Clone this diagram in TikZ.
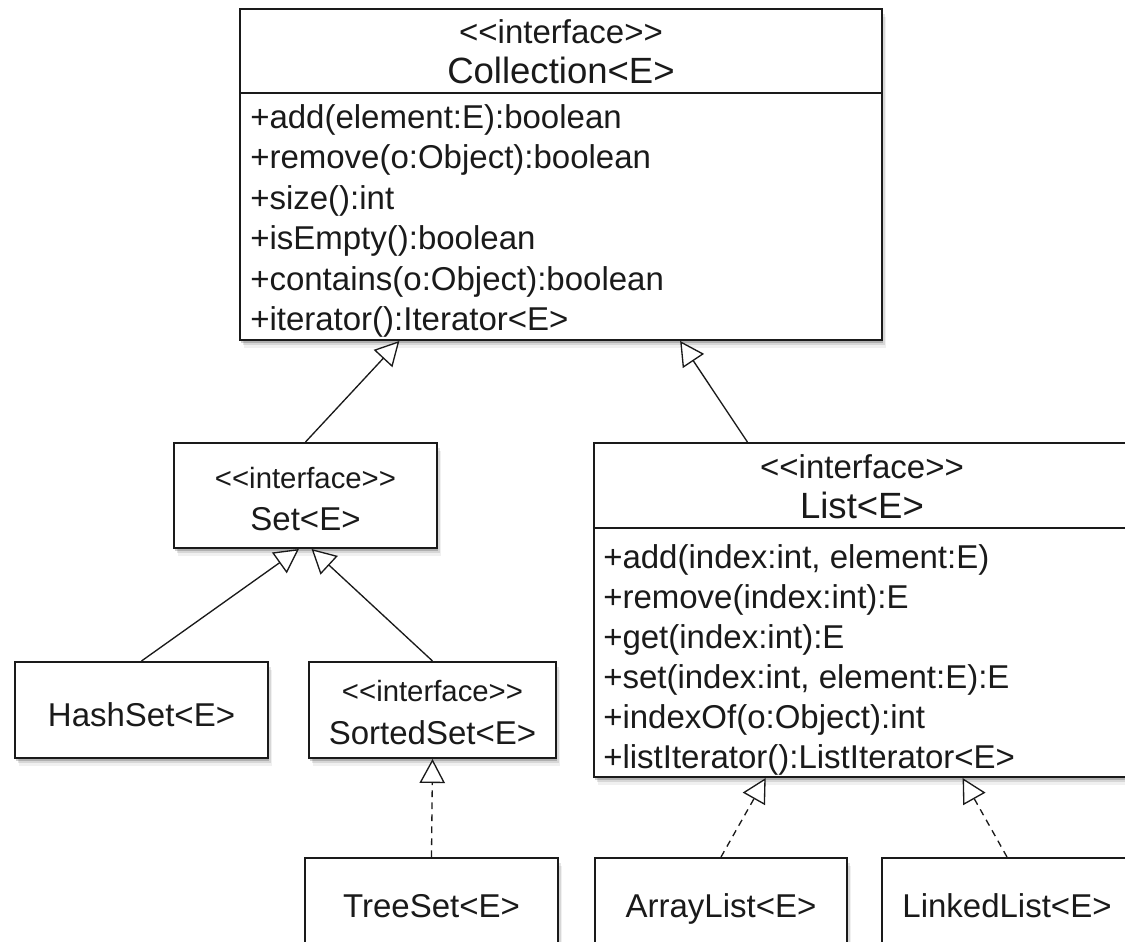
\documentclass[tikz,border=0pt]{standalone}
\usepackage{fontspec}
\setmainfont{Liberation Sans}
\usetikzlibrary{arrows.meta,shadows,fit,calc}
\definecolor{ink}{HTML}{1A1A1A}
\newcommand\stereotxt[1]{<\kern0pt<#1>\kern0pt>}
\begin{document}
\begin{tikzpicture}[x=0.75pt,y=-0.75pt,
  umlbox/.style={draw=ink, line width=1.5pt, fill=white, inner sep=0pt,
    drop shadow={shadow xshift=1pt, shadow yshift=-2pt, opacity=0.18, fill=black},
    drop shadow={shadow xshift=2pt, shadow yshift=-4pt, opacity=0.10, fill=black},
    drop shadow={shadow xshift=3pt, shadow yshift=-6pt, opacity=0.06, fill=black}},
  divider/.style={draw=ink, line width=1.2pt},
  bigstereo/.style={font=\fontsize{24.75}{29}\selectfont, text=ink, inner sep=0pt, anchor=base},
  bigtitle/.style={font=\fontsize{27.4}{32}\selectfont, text=ink, inner sep=0pt, anchor=base},
  member/.style={font=\fontsize{24.75}{29}\selectfont, text=ink, inner sep=0pt, anchor=base west},
  smallstereo/.style={font=\fontsize{22}{26}\selectfont, text=ink, inner sep=0pt, anchor=base},
  classname/.style={font=\fontsize{24.75}{29}\selectfont, text=ink, inner sep=0pt, anchor=base},
  inh/.style={draw=ink, line width=1pt, -{Triangle[open, fill=white, length=18pt, width=19pt, line width=1pt]}},
  impl/.style={inh, dash pattern=on 5pt off 4pt}
]
\path[use as bounding box] (0,0) rectangle (1125,942);
\clip (0,0) rectangle (1125,942);
\fill[white] (0,0) rectangle (1125,942);

% ---------- Collection ----------
\node[umlbox, fit={(240,9) (882,340)}] (coll) {};
\draw[divider] (240,93) -- (882,93);
\node[bigstereo] (collst) at (561,44) {\stereotxt{interface}};
\node[bigtitle] (collname) at (561,84) {Collection<E>};
\node[member] (cm1) at (250,128) {+add(element:E):boolean};
\node[member] (cm2) at (250,168.5) {+remove(o:Object):boolean};
\node[member] (cm3) at (250,209) {+size():int};
\node[member] (cm4) at (250,249.5) {+isEmpty():boolean};
\node[member] (cm5) at (250,290) {+contains(o:Object):boolean};
\node[member] (cm6) at (250,330.5) {+iterator():Iterator<E>};

% ---------- Set ----------
\node[umlbox, fit={(174,443) (437,548)}] (set) {};
\node[smallstereo] (setst) at (305.5,488) {\stereotxt{interface}};
\node[classname] (setname) at (305.5,530) {Set<E>};

% ---------- List ----------
\node[umlbox, fit={(594,443) (1130,777)}] (list) {};
\draw[divider] (594,528) -- (1130,528);
\node[bigstereo] (listst) at (862,478) {\stereotxt{interface}};
\node[bigtitle] (listname) at (862,518) {List<E>};
\node[member] (lm1) at (603,568) {+add(index:int, element:E)};
\node[member] (lm2) at (603,608) {+remove(index:int):E};
\node[member] (lm3) at (603,648) {+get(index:int):E};
\node[member] (lm4) at (603,688) {+set(index:int, element:E):E};
\node[member] (lm5) at (603,728) {+indexOf(o:Object):int};
\node[member] (lm6) at (603,768) {+listIterator():ListIterator<E>};

% ---------- HashSet / SortedSet ----------
\node[umlbox, fit={(15,662) (268,758)}] (hash) {};
\node[classname] (hashname) at (141.5,726) {HashSet<E>};
\node[umlbox, fit={(309,662) (556,758)}] (sorted) {};
\node[smallstereo] (sortedst) at (432.5,701) {\stereotxt{interface}};
\node[classname] (sortedname) at (432.5,744) {SortedSet<E>};

% ---------- bottom row ----------
\node[umlbox, fit={(305,858) (558,990)}] (tree) {};
\node[classname] (treename) at (431.5,917) {TreeSet<E>};
\node[umlbox, fit={(595,858) (847,990)}] (alist) {};
\node[classname] (alistname) at (721,917) {ArrayList<E>};
\node[umlbox, fit={(882,858) (1132,990)}] (llist) {};
\node[classname] (llistname) at (1007,917) {LinkedList<E>};

% ---------- connectors ----------
\coordinate (cSet) at ($(coll.south west)!0.249!(coll.south east)$);
\coordinate (cList) at ($(coll.south west)!0.685!(coll.south east)$);
\coordinate (lTop) at ($(list.north west)!0.287!(list.north east)$);
\coordinate (sHash) at ($(set.south west)!0.475!(set.south east)$);
\coordinate (sSorted) at ($(set.south west)!0.523!(set.south east)$);
\coordinate (lArr) at ($(list.south west)!0.321!(list.south east)$);
\coordinate (lLinked) at ($(list.south west)!0.687!(list.south east)$);

\draw[inh] (set.north) -- (cSet);
\draw[inh] (lTop) -- (cList);
\draw[inh] (hash.north) -- (sHash);
\draw[inh] (sorted.north) -- (sSorted);
\draw[impl] (tree.north) -- (sorted.south);
\draw[impl] (alist.north) -- (lArr);
\draw[impl] (llist.north) -- (lLinked);
\end{tikzpicture}
\end{document}
